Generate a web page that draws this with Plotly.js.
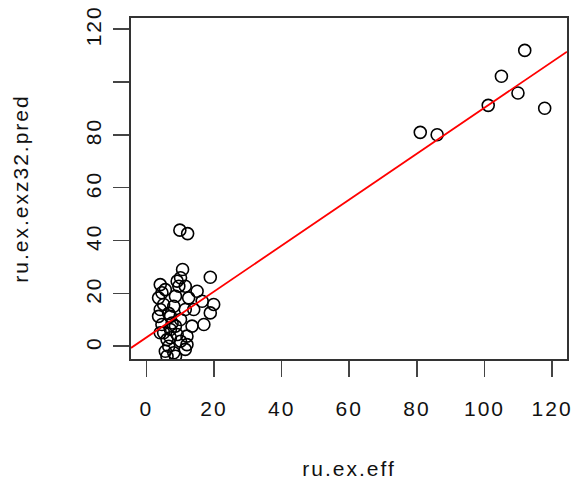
<!DOCTYPE html>
<html>
<head>
<meta charset="utf-8">
<script src="https://cdn.plot.ly/plotly-3.0.1.min.js"></script>
<style>
  html, body { margin: 0; padding: 0; background: #fff; }
  #chart { width: 576px; height: 485px; }
  #chart text { letter-spacing: 2px; }
</style>
</head>
<body>
<div id="chart"></div>
<script>
// Observed effect (x) against predicted effect (y)
const effX = [
  9.9, 12.2, 10.7, 18.9, 10.1, 4.1, 5.6, 9.1, 11.5, 15.0,
  3.6, 8.6, 12.5, 16.5, 19.9, 4.1, 8.1, 11.5, 18.9, 3.6,
  7.1, 10.1, 13.5, 17.0, 5.1, 7.1, 9.1, 12.0, 6.1, 10.1,
  6.6, 12.0, 5.6, 8.1, 11.5, 6.1, 8.6, 4.6, 5.1, 7.6,
  4.6, 8.6, 4.1, 9.6, 6.6, 7.1, 14.0,
  81.0, 86.0, 101.1, 105.0, 109.9, 111.9, 117.8
];
const predY = [
  43.9, 42.6, 29.0, 26.1, 25.9, 23.3, 21.4, 24.6, 22.7, 20.8,
  18.3, 18.9, 18.3, 17.0, 15.8, 13.9, 15.1, 13.9, 12.6, 11.3,
  11.3, 10.1, 7.6, 8.2, 5.1, 6.3, 4.4, 3.8, 2.5, 1.9,
  0.0, 0.6, -1.9, -2.5, -1.2, -3.8, -3.8, 20.2, 15.8, 8.8,
  8.2, 7.6, 5.1, 22.7, 12.4, 3.2, 13.9,
  80.9, 80.0, 91.1, 102.1, 95.8, 111.9, 90.0
];

// Fitted line y = a + b * x
const fitIntercept = 3.3;
const fitSlope = 0.869;

const xTickVals = [0, 20, 40, 60, 80, 100, 120];
const xTickText = ['0', '20', '40', '60', '80', '100', '120'];
const yTickVals = [0, 20, 40, 60, 80, 100, 120];
const yTickText = ['0', '20', '40', '60', '80', '', '120'];

const xRange = [-4.55, 124.4];
const yRange = [-4.84, 124.15];

const fitX = xRange.slice();
const fitY = fitX.map(v => fitIntercept + fitSlope * v);

const font = 'Liberation Sans, Arial, sans-serif';

const traces = [
  {
    x: effX, y: predY, type: 'scatter', mode: 'markers',
    marker: { symbol: 'circle-open', size: 12, color: '#000', line: { width: 1.6, color: '#000' } },
    hoverinfo: 'x+y', cliponaxis: true
  },
  {
    x: fitX, y: fitY, type: 'scatter', mode: 'lines',
    line: { color: '#ff0000', width: 1.8 }, hoverinfo: 'skip'
  }
];

const axisCommon = {
  showgrid: false, zeroline: false,
  showline: true, mirror: true, linecolor: '#333', linewidth: 1.6,
  ticks: 'outside', ticklen: 16, tickwidth: 1.6, tickcolor: '#444',
  tickmode: 'array',
  tickfont: { family: font, size: 21, color: '#111' }
};

const layout = {
  width: 576, height: 485,
  margin: { l: 131, r: 9, t: 18, b: 126 },
  paper_bgcolor: '#fff', plot_bgcolor: '#fff',
  showlegend: false,
  xaxis: Object.assign({}, axisCommon, {
    range: xRange, tickvals: xTickVals, ticktext: xTickText,
    ticklabelstandoff: 14,
    title: { text: 'ru.ex.eff', font: { family: font, size: 21, color: '#111' }, standoff: 42 }
  }),
  yaxis: Object.assign({}, axisCommon, {
    range: yRange, tickvals: yTickVals, ticktext: yTickText,
    tickangle: -90, ticklabelstandoff: 4,
    title: { text: 'ru.ex.exz32.pred', font: { family: font, size: 21, color: '#111' }, standoff: 47 }
  })
};

Plotly.newPlot('chart', traces, layout, { displayModeBar: false, staticPlot: true });
</script>
</body>
</html>
